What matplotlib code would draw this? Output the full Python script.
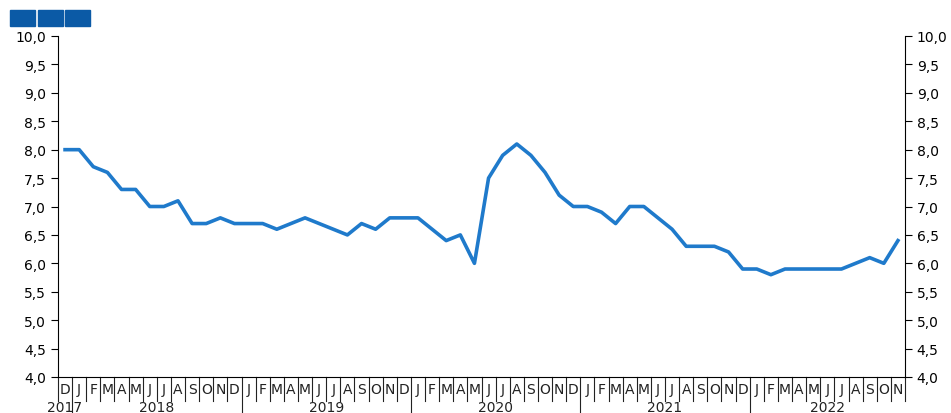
import matplotlib
matplotlib.use("Agg")
import matplotlib.pyplot as plt
from matplotlib.patches import Rectangle

months = ["D"] + ["J","F","M","A","M","J","J","A","S","O","N","D"]*4 + ["J","F","M","A","M","J","J","A","S","O","N"]
years = ["2017","2018","2019","2020","2021","2022"]
values = [8.0,
          8.0,7.7,7.6,7.3,7.3,7.0,7.0,7.1,6.7,6.7,6.8,6.7,
          6.7,6.7,6.6,6.7,6.8,6.7,6.6,6.5,6.7,6.6,6.8,6.8,
          6.8,6.6,6.4,6.5,6.0,7.5,7.9,8.1,7.9,7.6,7.2,7.0,
          7.0,6.9,6.7,7.0,7.0,6.8,6.6,6.3,6.3,6.3,6.2,5.9,
          5.9,5.8,5.9,5.9,5.9,5.9,5.9,6.0,6.1,6.0,6.4]
yticks = [4.0,4.5,5.0,5.5,6.0,6.5,7.0,7.5,8.0,8.5,9.0,9.5,10.0]

fig = plt.figure(figsize=(9.51,4.14), dpi=100)
ax = fig.add_axes([58/951, 1-378/414, (905-58)/951, (378-37)/414])
n = len(values)
x = list(range(n))
ax.plot(x, values, color="#1f7acb", lw=2.6, solid_joinstyle="round")
ax.set_xlim(-0.5, n-0.5)
ax.set_ylim(4, 10)
ax.set_yticks(yticks)
ax.set_yticklabels([f"{v:.1f}".replace(".", ",") for v in yticks], fontsize=10)
ax.tick_params(axis="y", which="both", right=True, labelright=True, length=5, direction="out")
ax.set_xticks([])
ax.spines["top"].set_visible(False)
for s in ["left","right","bottom"]:
    ax.spines[s].set_linewidth(0.8)

tr = ax.get_xaxis_transform()
for i, m in enumerate(months):
    ax.text(i, -0.035, m, transform=tr, ha="center", va="center", fontsize=10, color="#222")
for i in range(n+1):
    b = i - 0.5
    is_year = (i == 1) or (i > 1 and (i-1) % 12 == 0)
    ax.plot([b,b],[0,-0.07 if not is_year else -0.12], transform=tr, color="#222", lw=0.8, clip_on=False)
ystarts = [0] + [1+12*k for k in range(5)]
yends = [1] + [min(13+12*k, n) for k in range(5)]
for yl, a, b in zip(years, ystarts, yends):
    ax.text((a+b-1)/2, -0.088, yl, transform=tr, ha="center", va="center", fontsize=10, color="#222")

for k in range(3):
    fig.patches.append(Rectangle(((10+27.5*k)/951, 1-27/414), 25/951, 16/414,
                                 transform=fig.transFigure, color="#0b5aa6"))
fig.savefig("out.png", dpi=100)
